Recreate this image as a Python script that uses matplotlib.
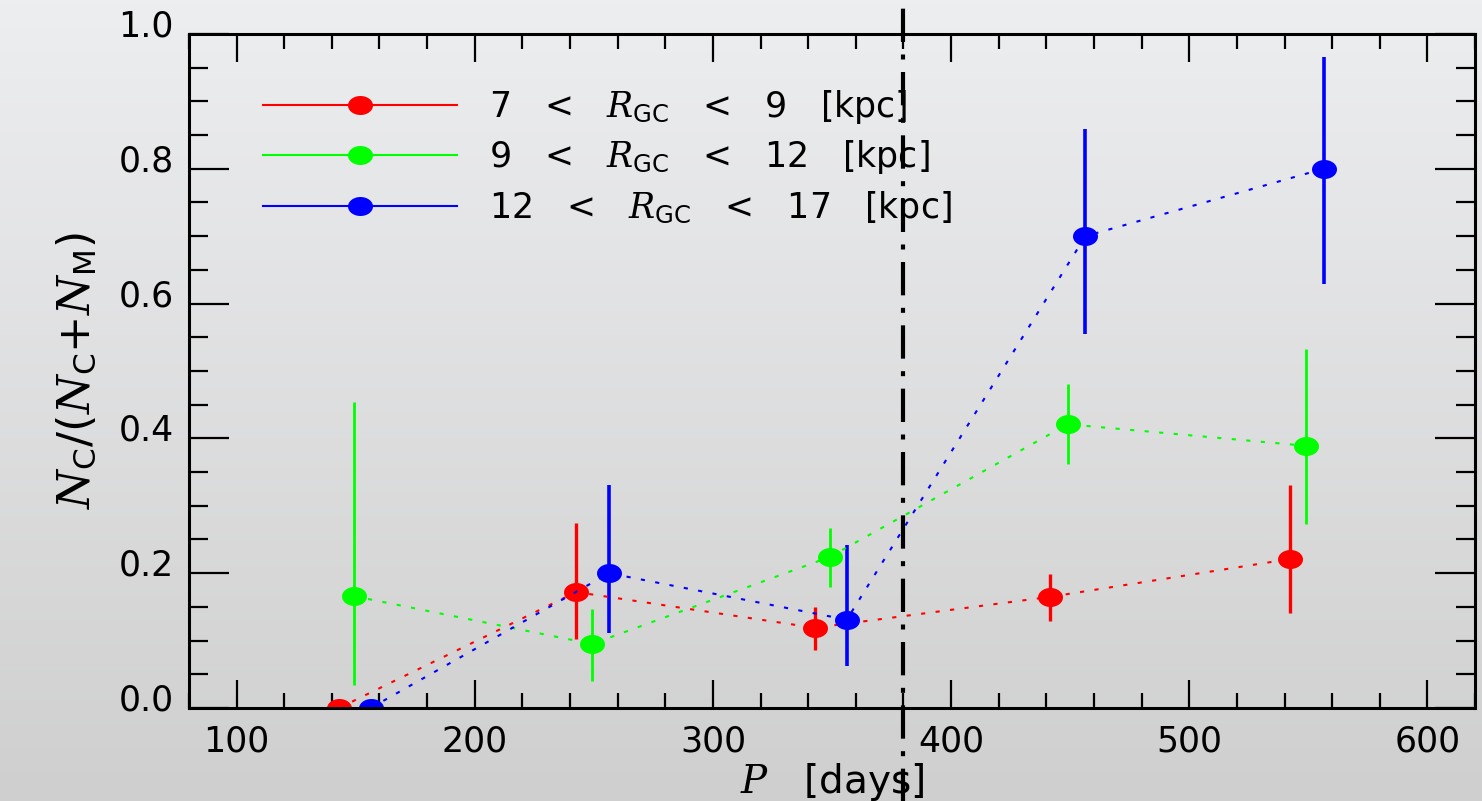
import numpy as np
import matplotlib
matplotlib.use("Agg")
import matplotlib.pyplot as plt
from matplotlib.lines import Line2D
from matplotlib.ticker import MultipleLocator
from matplotlib.transforms import ScaledTranslation

plt.rcParams['font.family'] = ['DejaVu Sans']
plt.rcParams['mathtext.fontset'] = 'custom'
plt.rcParams['mathtext.rm'] = 'DejaVu Sans'
plt.rcParams['mathtext.it'] = 'DejaVu Serif:italic'
plt.rcParams['mathtext.bf'] = 'DejaVu Sans:bold'

# ---- data ----
labels = ['7   <   $R_{\\rm GC}$   <   9   [kpc]',
          '9   <   $R_{\\rm GC}$   <   12   [kpc]',
          '12   <   $R_{\\rm GC}$   <   17   [kpc]']
colors = ['#ff0000', '#00ff00', '#0000ff']

p_red = [143.0, 242.6, 342.8, 441.7, 542.3]
f_red = [0.0, 0.172, 0.119, 0.165, 0.221]
lo_red = [0.0, 0.102, 0.086, 0.129, 0.141]
hi_red = [0.0, 0.274, 0.150, 0.199, 0.331]

p_green = [149.2, 249.3, 349.0, 449.0, 549.0]
f_green = [0.166, 0.095, 0.224, 0.421, 0.389]
lo_green = [0.034, 0.040, 0.180, 0.362, 0.273]
hi_green = [0.454, 0.147, 0.267, 0.480, 0.533]

p_blue = [156.3, 256.4, 356.2, 456.4, 556.4]
f_blue = [0.0, 0.200, 0.131, 0.700, 0.800]
lo_blue = [0.0, 0.111, 0.062, 0.555, 0.629]
hi_blue = [0.0, 0.331, 0.242, 0.859, 0.966]

p_cut = 380.0

series = [(p_red, f_red, lo_red, hi_red, 2.4),
          (p_green, f_green, lo_green, hi_green, 2.0),
          (p_blue, f_blue, lo_blue, hi_blue, 2.6)]

# ellipse marker (points look a bit wider than tall)
t = np.linspace(0, 2 * np.pi, 60)
ell = list(zip(np.cos(t), 0.76 * np.sin(t)))

fig = plt.figure(figsize=(14.82, 8.01), dpi=100)

# gray gradient background
bg = fig.add_axes([0, 0, 1, 1], zorder=-10)
grad = np.linspace(0, 1, 256)[:, None]
top = np.array([237, 238, 240]) / 255.
bot = np.array([207, 207, 207]) / 255.
img = top[None, None, :] * (1 - grad[..., None]) + bot[None, None, :] * grad[..., None]
bg.imshow(img, aspect='auto', extent=[0, 1, 0, 1])
bg.axis('off')

ax = fig.add_axes([0.1275, 0.1161, 0.8678, 0.8415])
ax.set_facecolor('none')

for (p, f, lo, hi, elw), c in zip(series, colors):
    p = np.array(p); f = np.array(f)
    yerr = [f - np.array(lo), np.array(hi) - f]
    ax.errorbar(p, f, yerr=yerr, color=c, ecolor=c, elinewidth=elw, capsize=0,
                ls=(0, (2, 5)), lw=1.5, marker=ell, ms=18, mec=c, mew=0)

ax.axvline(p_cut, ymin=-0.14, ymax=1.06, clip_on=False, color='black', lw=3,
           ls=(0, (8, 3, 1.2, 3)), zorder=5)

ax.set_xlim(80, 620)
ax.set_ylim(0, 1.0)
ax.xaxis.set_major_locator(MultipleLocator(100))
ax.xaxis.set_minor_locator(MultipleLocator(20))
ax.yaxis.set_major_locator(MultipleLocator(0.2))
ax.yaxis.set_minor_locator(MultipleLocator(0.05))
ax.yaxis.set_major_formatter(plt.FormatStrFormatter('%.1f'))

ax.tick_params(axis='x', which='major', direction='in', length=20, width=1.6,
               top=True, labelsize=25, pad=12)
ax.tick_params(axis='x', which='minor', direction='in', length=11, width=1.6, top=True)
ax.tick_params(axis='y', which='major', direction='in', length=29, width=1.6,
               right=True, labelsize=25, pad=11)
ax.tick_params(axis='y', which='minor', direction='in', length=14, width=1.6, right=True)
for s in ax.spines.values():
    s.set_linewidth(2.2)

# y tick labels sit a little above their ticks
for lab in ax.get_yticklabels():
    lab.set_transform(lab.get_transform() + ScaledTranslation(0, 0.11, fig.dpi_scale_trans))

ax.set_xlabel('$P$   [days]', fontsize=28, labelpad=2)
ax.set_ylabel('$N_{\\rm C}/(N_{\\rm C}$+$N_{\\rm M})$', fontsize=32, labelpad=14)

handles = [Line2D([], [], color=c, lw=1.5, marker=ell, ms=18, mec=c, mew=0) for c in colors]
ax.legend(handles, labels, loc='upper left', bbox_to_anchor=(0.0575, 0.92),
          frameon=False, fontsize=25, handlelength=5.6, handletextpad=0.9,
          labelspacing=0.36, borderpad=0, borderaxespad=0)

fig.savefig('out.png', dpi=100)
